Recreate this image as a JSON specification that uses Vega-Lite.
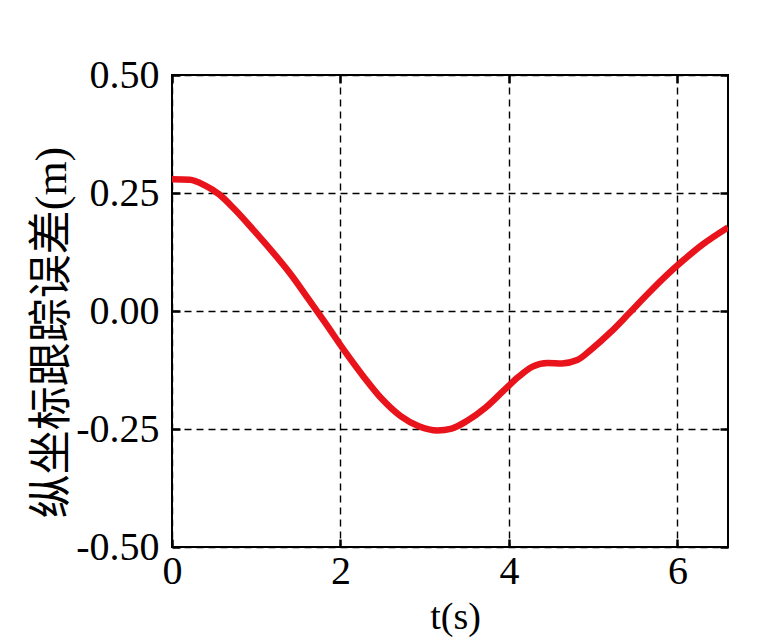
{
  "$schema": "https://vega.github.io/schema/vega-lite/v6.json",
  "autosize": "none",
  "padding": {"left": 172, "top": 75, "right": 46, "bottom": 94},
  "width": 556,
  "height": 472,
  "background": "white",
  "config": {
    "view": {"stroke": "black", "strokeWidth": 2},
    "axis": {
      "labelFont": "Liberation Serif",
      "labelFontSize": 40,
      "labelColor": "black",
      "titleFont": "Liberation Serif, Noto Sans CJK SC",
      "titleFontWeight": "normal",
      "titleColor": "black",
      "domain": false,
      "gridColor": "black",
      "gridDash": [7, 5],
      "gridWidth": 1.4,
      "gridOpacity": 1,
      "ticks": true,
      "tickColor": "black",
      "tickWidth": 2.5,
      "tickSize": -8
    }
  },
  "data": {
    "values": [
      {"t": 0.0, "e": 0.279},
      {"t": 0.21, "e": 0.278},
      {"t": 0.39, "e": 0.266},
      {"t": 0.56, "e": 0.247},
      {"t": 0.74, "e": 0.216},
      {"t": 0.96, "e": 0.173},
      {"t": 1.18, "e": 0.128},
      {"t": 1.40, "e": 0.080},
      {"t": 1.61, "e": 0.028},
      {"t": 1.83, "e": -0.028},
      {"t": 2.05, "e": -0.085},
      {"t": 2.27, "e": -0.138},
      {"t": 2.49, "e": -0.186},
      {"t": 2.71, "e": -0.222},
      {"t": 2.93, "e": -0.244},
      {"t": 3.15, "e": -0.253},
      {"t": 3.32, "e": -0.249},
      {"t": 3.50, "e": -0.233},
      {"t": 3.72, "e": -0.205},
      {"t": 3.93, "e": -0.170},
      {"t": 4.11, "e": -0.140},
      {"t": 4.28, "e": -0.118},
      {"t": 4.46, "e": -0.110},
      {"t": 4.63, "e": -0.111},
      {"t": 4.81, "e": -0.104},
      {"t": 4.98, "e": -0.081},
      {"t": 5.20, "e": -0.046},
      {"t": 5.42, "e": -0.006},
      {"t": 5.64, "e": 0.035},
      {"t": 5.86, "e": 0.074},
      {"t": 6.08, "e": 0.109},
      {"t": 6.30, "e": 0.141},
      {"t": 6.60, "e": 0.177}
    ]
  },
  "layer": [
    {
      "mark": {"type": "line", "opacity": 0},
      "encoding": {
        "x": {
          "field": "t",
          "type": "quantitative",
          "scale": {"domain": [0, 6.6], "nice": false, "zero": false},
          "axis": {"orient": "top", "values": [0, 2, 4, 6], "labels": false, "title": null, "grid": false}
        },
        "y": {
          "field": "e",
          "type": "quantitative",
          "scale": {"domain": [-0.5, 0.5], "nice": false},
          "axis": {"orient": "right", "values": [-0.5, -0.25, 0, 0.25, 0.5], "labels": false, "title": null, "grid": false}
        }
      }
    },
    {
      "mark": {"type": "line", "color": "#e8131b", "strokeWidth": 6.5, "interpolate": "monotone", "clip": true},
      "encoding": {
        "x": {
          "field": "t",
          "type": "quantitative",
          "scale": {"domain": [0, 6.6], "nice": false, "zero": false},
          "axis": {
            "orient": "bottom",
            "values": [0, 2, 4, 6],
            "grid": true,
            "title": "t(s)",
            "titleFontSize": 38,
            "titleX": 283,
            "titleY": 81,
            "titleBaseline": "alphabetic",
            "labelPadding": 12,
            "labelFlush": false
          }
        },
        "y": {
          "field": "e",
          "type": "quantitative",
          "scale": {"domain": [-0.5, 0.5], "nice": false},
          "axis": {
            "orient": "left",
            "values": [-0.5, -0.25, 0, 0.25, 0.5],
            "grid": true,
            "labelExpr": "replace(format(datum.value, '.2f'), '−', '-')",
            "title": "纵坐标跟踪误差(m)",
            "titleFontSize": 44,
            "titleX": -120,
            "titleY": 257,
            "titleBaseline": "middle",
            "labelPadding": 21,
            "labelFlush": false
          }
        }
      }
    }
  ],
  "resolve": {"axis": {"x": "independent", "y": "independent"}}
}
